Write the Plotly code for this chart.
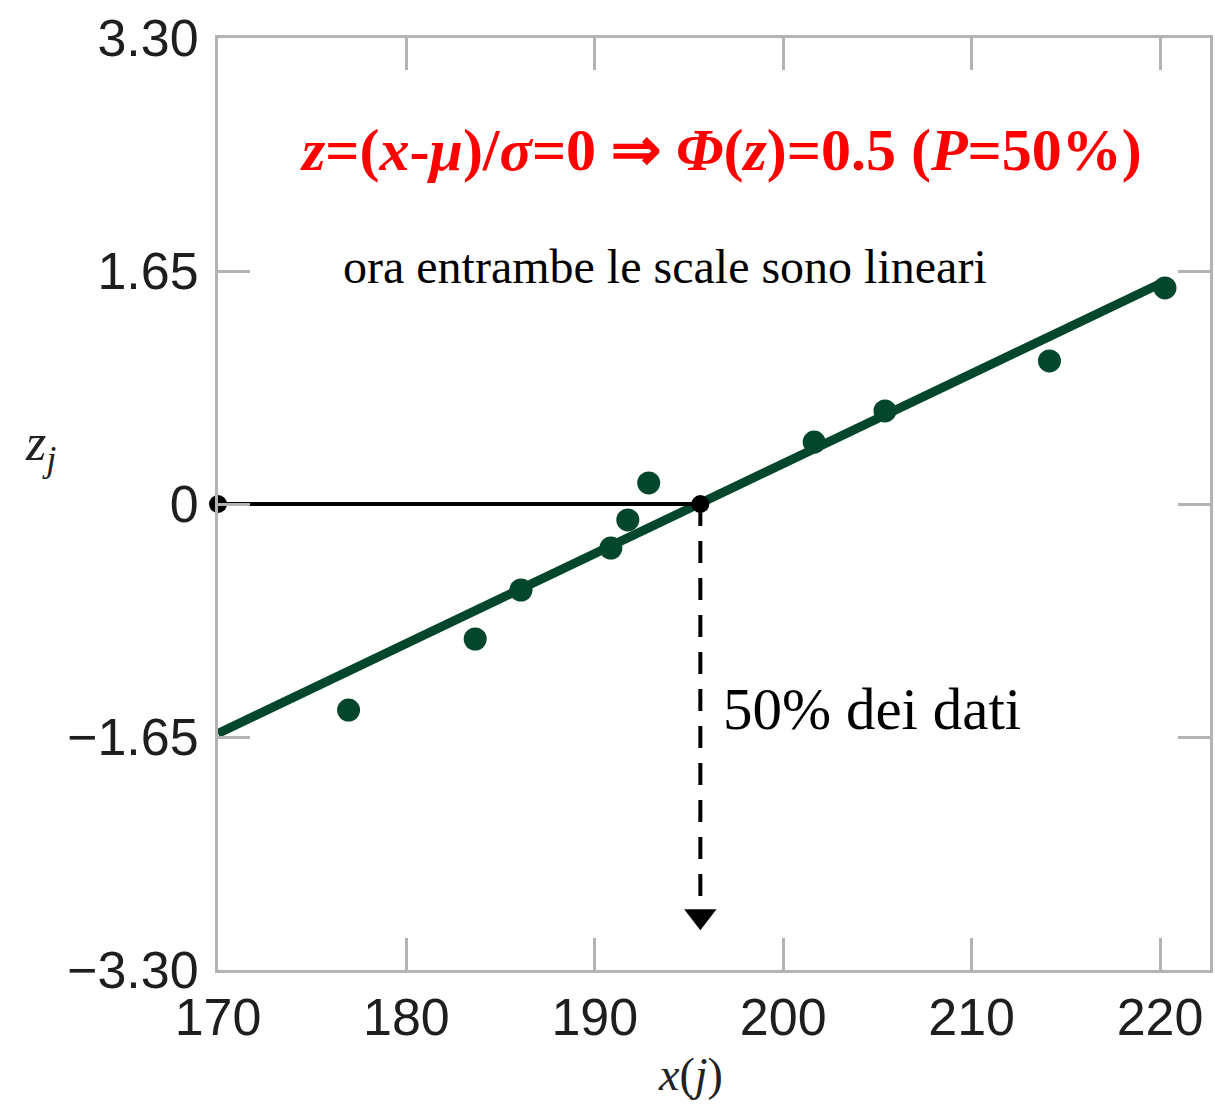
import plotly.graph_objects as go

# Data
x_data = [176.93, 183.65, 186.08, 190.85, 191.75, 192.86, 201.64, 205.40, 214.13, 220.26]
z_data = [-1.459, -0.956, -0.609, -0.312, -0.113, 0.149, 0.439, 0.659, 1.013, 1.530]

fit_x = [170, 220]
fit_z = [-1.625, 1.56]

median_x = 195.6
hline_x = [170, median_x]
hline_z = [0, 0]
vline_x = [median_x, median_x]
vline_z = [0, -2.80]
arrow_z = [-2.92]

x_ticks = [170, 180, 190, 200, 210, 220]
y_ticks = [-3.30, -1.65, 0, 1.65, 3.30]
y_tick_text = ["\u22123.30", "\u22121.65", "0", "1.65", "3.30"]

green = "#02472c"
gray = "#b3b3b3"

fig = go.Figure()

fig.add_trace(go.Scatter(x=fit_x, y=fit_z, mode="lines",
                         line=dict(color=green, width=9), hoverinfo="skip"))
fig.add_trace(go.Scatter(x=x_data, y=z_data, mode="markers",
                         marker=dict(color=green, size=23)))
fig.add_trace(go.Scatter(x=hline_x, y=hline_z, mode="lines+markers", cliponaxis=False,
                         line=dict(color="black", width=4),
                         marker=dict(color="black", size=18)))
fig.add_trace(go.Scatter(x=vline_x, y=vline_z, mode="lines",
                         line=dict(color="black", width=4, dash="22px,15px")))
fig.add_trace(go.Scatter(x=[median_x], y=arrow_z, mode="markers",
                         marker=dict(color="black", size=28, symbol="triangle-down")))

serif = "Liberation Serif"

fig.add_annotation(x=196.7, y=2.51, xref="x", yref="y", showarrow=False,
                   text="<b><i>z</i>=(<i>x</i>-<i>\u03bc</i>)/<i>\u03c3</i>=0 \u21d2 <i>\u03a6</i>(<i>z</i>)=0.5 (<i>P</i>=50%)</b>",
                   font=dict(family=serif, size=60, color="#ff0000"))
fig.add_annotation(x=193.7, y=1.68, xref="x", yref="y", showarrow=False,
                   text="ora entrambe le scale sono lineari",
                   font=dict(family=serif, size=48, color="black"))
fig.add_annotation(x=196.67, y=-1.45, xref="x", yref="y", showarrow=False,
                   xanchor="left", text="50% dei dati",
                   font=dict(family=serif, size=59, color="black"))

# axis titles
fig.add_annotation(x=-0.179, y=0.562, xref="paper", yref="paper", showarrow=False,
                   xanchor="center", yanchor="middle",
                   text="<i>z<sub>j</sub></i>",
                   font=dict(family=serif, size=52, color="#222222"))
fig.add_annotation(x=0.476, y=-0.112, xref="paper", yref="paper", showarrow=False,
                   xanchor="center", yanchor="middle",
                   text="<i>x</i>(<i>j</i>)",
                   font=dict(family=serif, size=46, color="#222222"))

axis_common = dict(showline=True, linecolor=gray, linewidth=3, mirror="ticks",
                   ticks="inside", ticklen=32, tickwidth=3, tickcolor=gray,
                   showgrid=False, zeroline=False,
                   tickfont=dict(family="Liberation Sans", size=52, color="#1e1e1e"))

fig.update_xaxes(range=[170, 222.65], tickvals=x_ticks, **axis_common)
fig.update_yaxes(range=[-3.30, 3.30], tickvals=y_ticks, ticktext=y_tick_text,
                 ticklabelstandoff=6, **axis_common)

fig.update_layout(width=1215, height=1106, showlegend=False,
                  margin=dict(l=218, r=2, t=38, b=136),
                  plot_bgcolor="white", paper_bgcolor="white")

fig.write_html("out.html")
